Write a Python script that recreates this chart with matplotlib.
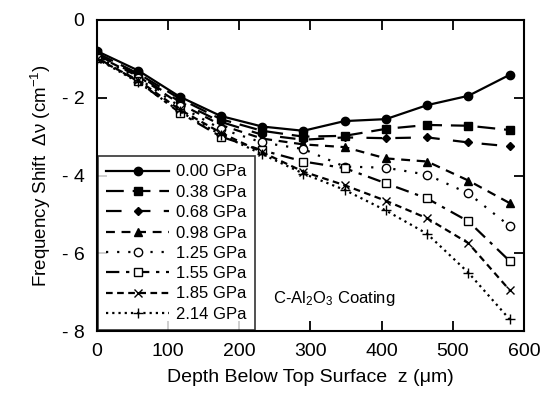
import matplotlib
matplotlib.use("Agg")
import matplotlib.pyplot as plt

plt.rcParams['font.family'] = ['Liberation Sans', 'DejaVu Sans']
plt.rcParams['mathtext.fontset'] = 'custom'
plt.rcParams['mathtext.rm'] = 'Liberation Sans'
plt.rcParams['mathtext.it'] = 'Liberation Sans'

depth = [0, 58, 116, 174, 232, 290, 348, 406, 464, 522, 580]
labels = ["0.00 GPa", "0.38 GPa", "0.68 GPa", "0.98 GPa",
          "1.25 GPa", "1.55 GPa", "1.85 GPa", "2.14 GPa"]
s000 = [-0.80, -1.30, -1.97, -2.47, -2.74, -2.85, -2.60, -2.55, -2.19, -1.95, -1.41]
s038 = [-0.85, -1.38, -2.02, -2.55, -2.85, -3.00, -2.98, -2.80, -2.70, -2.72, -2.83]
s068 = [-0.90, -1.42, -2.10, -2.62, -2.95, -3.08, -3.02, -3.04, -3.02, -3.15, -3.25]
s098 = [-0.92, -1.45, -2.15, -2.70, -3.05, -3.20, -3.27, -3.56, -3.64, -4.13, -4.71]
s125 = [-0.95, -1.50, -2.22, -2.80, -3.15, -3.32, -3.77, -3.80, -3.98, -4.46, -5.30]
s155 = [-0.97, -1.58, -2.38, -3.00, -3.35, -3.64, -3.81, -4.20, -4.59, -5.18, -6.20]
s185 = [-1.00, -1.55, -2.30, -2.90, -3.40, -3.90, -4.25, -4.65, -5.10, -5.74, -6.95]
s214 = [-1.00, -1.60, -2.35, -2.95, -3.45, -3.95, -4.37, -4.90, -5.50, -6.50, -7.70]
series = [s000, s038, s068, s098, s125, s155, s185, s214]

styles = [
    dict(linestyle='-', marker='o', mfc='black', ms=6),
    dict(linestyle=(0, (8, 4)), marker='s', mfc='black', ms=5.5),
    dict(linestyle=(0, (7, 6)), marker='D', mfc='black', ms=4),
    dict(linestyle=(0, (4, 3)), marker='^', mfc='black', ms=5.5),
    dict(linestyle=(0, (1, 4)), marker='o', mfc='white', ms=6),
    dict(linestyle=(0, (6, 3, 1.5, 3)), marker='s', mfc='white', ms=5.5),
    dict(linestyle=(0, (3, 2)), marker='x', mfc='black', ms=6),
    dict(linestyle=(0, (1, 1.8)), marker='+', mfc='black', ms=7),
]

fig = plt.figure(figsize=(5.48, 4.0), dpi=100)
ax = fig.add_axes([0.177, 0.1725, 0.779, 0.7775])

for y, lab, st in zip(series, labels, styles):
    ax.plot(depth, y, color='black', lw=1.6, mec='black', mew=1.0,
            label=lab, **st)

ax.set_xlim(0, 600)
ax.set_ylim(-8, 0)
ax.set_xticks([0, 100, 200, 300, 400, 500, 600])
ax.set_xticklabels(["0", "100", "200", "300", "400", "500", "600"])
ax.set_yticks([0, -2, -4, -6, -8])
ax.set_yticklabels(["0", "- 2", "- 4", "- 6", "- 8"])
ax.tick_params(direction='in', length=7, width=1.3, top=True, right=True,
               labelsize=14, pad=9)
for sp in ax.spines.values():
    sp.set_linewidth(1.5)

ax.set_xlabel("Depth Below Top Surface  z (\u03bcm)", fontsize=14, labelpad=6)
ax.set_ylabel("Frequency Shift  \u0394\u03bd (cm$^{-1}$)", fontsize=13.5, labelpad=6)

ax.text(247, -7.27, "C-Al$_2$O$_3$ Coating", fontsize=12)

leg = ax.legend(loc='lower left', bbox_to_anchor=(0.0, 0.0), fontsize=12,
                handlelength=3.8, frameon=True, fancybox=False,
                edgecolor='black', borderaxespad=0.05, labelspacing=0.32,
                borderpad=0.5, handletextpad=0.4)
leg.get_frame().set_linewidth(1.2)

fig.savefig("out.png", dpi=100)
